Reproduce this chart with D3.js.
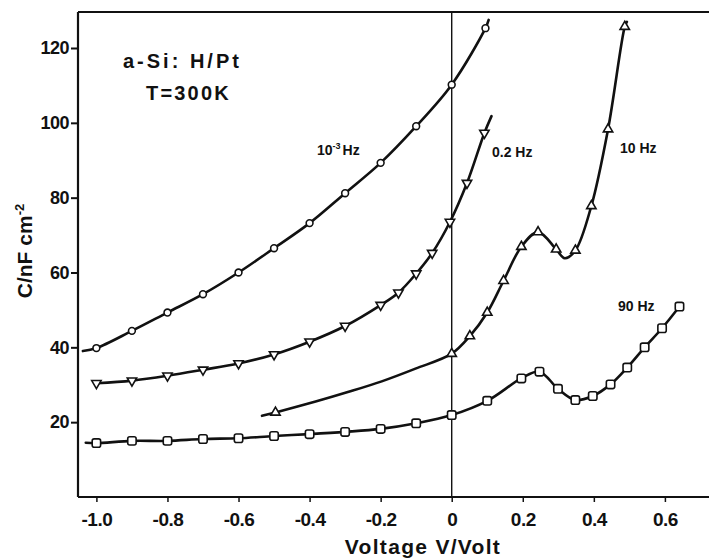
<!DOCTYPE html>
<html>
<head>
<meta charset="utf-8">
<script src="https://cdn.jsdelivr.net/npm/d3@7"></script>
<style>
    html, body { margin: 0; padding: 0; background: #fff; }
    svg text { font-family: 'Liberation Sans', Arial, sans-serif; font-weight: bold; fill: #111; }
</style>
</head>
<body>
<svg id="chart" width="709" height="559"></svg>
<script>
// --- Data ---
const voltTicks = [-1.0, -0.8, -0.6, -0.4, -0.2, 0, 0.2, 0.4, 0.6];
const voltTickLabels = ['-1.0', '-0.8', '-0.6', '-0.4', '-0.2', '0', '0.2', '0.4', '0.6'];
const capTicks = [20, 40, 60, 80, 100, 120];

// 10^-3 Hz, open circles
const voltMilli = [-1.0, -0.9, -0.8, -0.7, -0.6, -0.5, -0.4, -0.3, -0.2, -0.1, 0, 0.095];
const capMilli = [39.8, 44.4, 49.3, 54.2, 60, 66.5, 73.2, 81.2, 89.3, 99.1, 110.2, 125.3];
const traceMilli = [[-1.038, 39], [0.104, 127.5]];

// 0.2 Hz, triangles pointing down
const voltPoint2 = [-1.0, -0.9, -0.8, -0.7, -0.6, -0.5, -0.4, -0.3, -0.2, -0.15, -0.1, -0.055, -0.005, 0.043, 0.092];
const capPoint2 = [30.4, 31.1, 32.4, 34, 35.7, 38.1, 41.5, 45.7, 51.3, 54.6, 59.7, 65.2, 73.5, 83.9, 97.3];
const tracePoint2 = [[0.112, 101.8]];

// 10 Hz, triangles pointing up (unmarked stretch between -0.5 V and 0 V kept as trace)
const volt10 = [-0.496, 0, 0.051, 0.1, 0.146, 0.196, 0.243, 0.294, 0.348, 0.393, 0.44, 0.487];
const cap10 = [22.6, 38.3, 43, 49.3, 57.8, 66.9, 70.8, 66.2, 65.9, 77.8, 98.3, 125.7];
const trace10 = [[-0.534, 21.7], [-0.383, 25.5], [-0.29, 28.1], [-0.197, 30.9], [-0.102, 34.3], [0.318, 63.8], [0.493, 127]];

// 90 Hz, open squares
const volt90 = [-1.0, -0.9, -0.8, -0.7, -0.6, -0.5, -0.4, -0.3, -0.2, -0.1, 0, 0.1, 0.196, 0.247, 0.299, 0.348, 0.397, 0.447, 0.494, 0.543, 0.592, 0.641];
const cap90 = [14.4, 15, 15, 15.5, 15.7, 16.3, 16.8, 17.4, 18.2, 19.7, 21.9, 25.7, 31.7, 33.5, 28.9, 25.9, 27, 30.1, 34.6, 40, 45.1, 50.9];
const trace90 = [[-1.03, 14.5]];

const seriesLabels = ['10', '0.2 Hz', '10 Hz', '90 Hz'];

document.addEventListener('DOMContentLoaded', () => {
    drawChart();
});

function drawChart() {
    const svg = d3.select('#chart');
    const ink = '#111';

    // scales fitted to the printed tick marks
    const x = d3.scaleLinear().domain([-1.0, 0.6]).range([96.4, 664.9]);
    const y = d3.scaleLinear().domain([0, 120]).range([497, 48]);

    const xLeft = x.invert(78), xRight = x.invert(709);
    const yTop = y.invert(12);

    // --- Frame ---
    const frame = svg.append('g').attr('stroke', ink).attr('fill', 'none');
    frame.append('line').attr('x1', x(xLeft)).attr('x2', x(xLeft)).attr('y1', y(yTop)).attr('y2', y(0)).attr('stroke-width', 2.2);
    frame.append('line').attr('x1', x(xLeft)).attr('x2', x(xRight)).attr('y1', y(0)).attr('y2', y(0)).attr('stroke-width', 2.2);
    frame.append('line').attr('x1', x(xLeft)).attr('x2', x(xRight)).attr('y1', y(yTop)).attr('y2', y(yTop)).attr('stroke-width', 2);
    // zero-bias line
    frame.append('line').attr('x1', x(0)).attr('x2', x(0)).attr('y1', y(yTop)).attr('y2', y(0)).attr('stroke-width', 1.4);

    // --- Axes ---
    const yAxis = svg.append('g').attr('transform', `translate(${x(xLeft)},0)`)
        .call(d3.axisLeft(y).tickValues(capTicks).tickSize(7).tickPadding(2).tickSizeOuter(0));
    yAxis.select('.domain').remove();
    yAxis.selectAll('line').attr('stroke', ink).attr('stroke-width', 2);
    yAxis.selectAll('text').attr('font-size', 18).attr('fill', ink).attr('letter-spacing', -0.5);

    const xAxis = svg.append('g').attr('transform', `translate(0,${y(0)})`)
        .call(d3.axisBottom(x).tickValues(voltTicks).tickSize(5).tickPadding(11).tickSizeOuter(0)
            .tickFormat((d, i) => voltTickLabels[i]));
    xAxis.select('.domain').remove();
    xAxis.selectAll('line').attr('stroke', ink).attr('stroke-width', 1.5);
    xAxis.selectAll('text').attr('font-size', 19).attr('fill', ink).attr('letter-spacing', -0.5);

    // --- Axis titles ---
    svg.append('text')
        .attr('x', 423).attr('y', 554)
        .attr('text-anchor', 'middle')
        .attr('font-size', 21).attr('letter-spacing', 1.3)
        .text('Voltage V/Volt');

    const yTitle = svg.append('text')
        .attr('transform', 'translate(32,251) rotate(-90)')
        .attr('text-anchor', 'middle')
        .attr('font-size', 21);
    yTitle.append('tspan').text('C/nF cm');
    yTitle.append('tspan').attr('dy', -8).attr('font-size', 13).text('-2');

    // --- Sample annotation ---
    svg.append('text').attr('x', 123).attr('y', 68).attr('font-size', 20).attr('letter-spacing', 3).text('a-Si: H/Pt');
    svg.append('text').attr('x', 146).attr('y', 100).attr('font-size', 20).attr('letter-spacing', 2.2).text('T=300K');

    // --- Curves ---
    const line = d3.line()
        .x(d => x(d[0]))
        .y(d => y(d[1]))
        .curve(d3.curveCatmullRom.alpha(0.5));

    const joinTrace = (volts, caps, extra) =>
        volts.map((v, i) => [v, caps[i]]).concat(extra).sort((a, b) => a[0] - b[0]);

    const curves = [
        joinTrace(voltMilli, capMilli, traceMilli),
        joinTrace(voltPoint2, capPoint2, tracePoint2),
        joinTrace(volt10, cap10, trace10),
        joinTrace(volt90, cap90, trace90)
    ];

    svg.append('g').selectAll('path')
        .data(curves)
        .join('path')
        .attr('d', line)
        .attr('fill', 'none')
        .attr('stroke', ink)
        .attr('stroke-width', 2.6)
        .attr('stroke-linecap', 'round');

    // --- Markers ---
    const markers = svg.append('g').attr('fill', '#fff').attr('stroke', ink).attr('stroke-width', 1.6);

    markers.selectAll('.m-milli')
        .data(voltMilli.map((v, i) => [v, capMilli[i]]))
        .join('circle')
        .attr('cx', d => x(d[0])).attr('cy', d => y(d[1])).attr('r', 3.4);

    const tri = d3.symbol().type(d3.symbolTriangle).size(38);

    markers.selectAll('.m-point2')
        .data(voltPoint2.map((v, i) => [v, capPoint2[i]]))
        .join('path')
        .attr('d', tri)
        .attr('transform', d => `translate(${x(d[0])},${y(d[1])}) rotate(180)`);

    markers.selectAll('.m-10')
        .data(volt10.map((v, i) => [v, cap10[i]]))
        .join('path')
        .attr('d', tri)
        .attr('transform', d => `translate(${x(d[0])},${y(d[1])})`);

    markers.selectAll('.m-90')
        .data(volt90.map((v, i) => [v, cap90[i]]))
        .join('rect')
        .attr('x', d => x(d[0]) - 4.2).attr('y', d => y(d[1]) - 4.2)
        .attr('width', 8.4).attr('height', 8.4).attr('rx', 2);

    // --- Curve labels ---
    const milli = svg.append('text').attr('x', 317).attr('y', 155).attr('font-size', 14);
    milli.append('tspan').text(seriesLabels[0]);
    milli.append('tspan').attr('dy', -6).attr('font-size', 9).text('-3');
    milli.append('tspan').attr('dy', 6).attr('dx', 2).text('Hz');

    svg.append('text').attr('x', 492).attr('y', 157).attr('font-size', 14).text(seriesLabels[1]);
    svg.append('text').attr('x', 620).attr('y', 153).attr('font-size', 14).text(seriesLabels[2]);
    svg.append('text').attr('x', 618).attr('y', 311).attr('font-size', 14).text(seriesLabels[3]);
}
</script>
</body>
</html>
